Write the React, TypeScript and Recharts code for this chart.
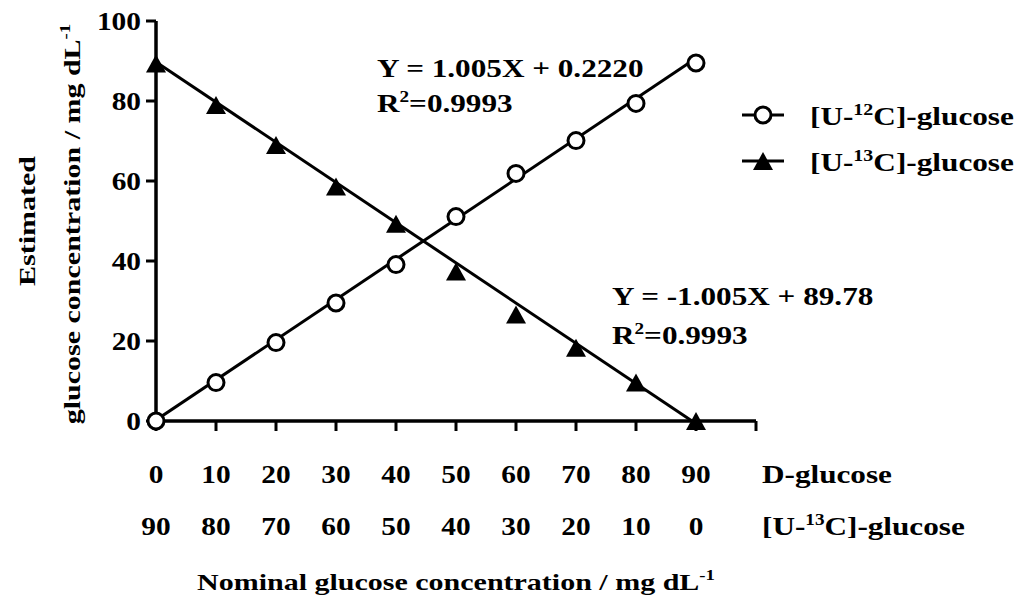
import React from "react";
import {
  ComposedChart,
  Line,
  Scatter,
  XAxis,
  YAxis,
  Legend,
  Customized,
} from "recharts";

// nominal D-glucose amount for each calibration mix
const nominalD = [0, 10, 20, 30, 40, 50, 60, 70, 80, 90];
// estimated concentrations
const u12Estimated = [0, 9.6, 19.6, 29.5, 39.1, 51.1, 61.9, 70.1, 79.4, 89.5];
const u13Estimated = [89.4, 79.0, 69.0, 58.6, 49.3, 37.4, 26.6, 18.3, 9.6, 0];

// regression lines (end points from the equations on the figure)
const fitX = [0, 90];
const fit12Y = [0.222, 90.672];
const fit13Y = [89.78, -0.67];

const xTicks = [0, 10, 20, 30, 40, 50, 60, 70, 80, 90, 100];
const dGlucoseLabels = ["0", "10", "20", "30", "40", "50", "60", "70", "80", "90"];
const u13Labels = ["90", "80", "70", "60", "50", "40", "30", "20", "10", "0"];
const yTicks = [0, 20, 40, 60, 80, 100];

const u12Data = nominalD.map((x, i) => ({ x, y: u12Estimated[i] }));
const u13Data = nominalD.map((x, i) => ({ x, y: u13Estimated[i] }));
const fit12Data = fitX.map((x, i) => ({ x, y: fit12Y[i] }));
const fit13Data = fitX.map((x, i) => ({ x, y: fit13Y[i] }));

const FONT = "'Liberation Serif', 'Times New Roman', serif";
const STRETCH = 1.25;

function SText({ x, y, size = 24, anchor = "start", rotate = 0, stretch = STRETCH, children }: any) {
  return (
    <text
      transform={`translate(${x},${y}) rotate(${rotate}) scale(${stretch},1)`}
      textAnchor={anchor}
      fontFamily={FONT}
      fontWeight="bold"
      fontSize={size}
      fill="#000"
    >
      {children}
    </text>
  );
}

function Sup({ text, rest, size = 15, rise = 10 }: any) {
  return (
    <>
      <tspan dy={-rise} fontSize={size}>{text}</tspan>
      <tspan dy={rise}>{rest}</tspan>
    </>
  );
}

function CircleMark({ cx, cy }: any) {
  return <circle cx={cx} cy={cy} r={8} fill="#fff" stroke="#000" strokeWidth={3} />;
}

function TriangleMark({ cx, cy }: any) {
  const w = 10, h = 9;
  return (
    <polygon
      points={`${cx},${cy - h} ${cx - w},${cy + h} ${cx + w},${cy + h}`}
      fill="#000"
    />
  );
}

function XTick({ x, y, payload, index }: any) {
  if (payload.value === 100) {
    return (
      <g>
        <SText x={x + 6} y={y + 52} size={26} stretch={1.2}>D-glucose</SText>
        <SText x={x + 6} y={y + 104} size={26} stretch={1.2}>
          [U-<Sup text="13" rest="C]-glucose" size={16} />
        </SText>
      </g>
    );
  }
  return (
    <g>
      <SText x={x} y={y + 52} anchor="middle" size={26} stretch={1.13}>
        {dGlucoseLabels[index]}
      </SText>
      <SText x={x} y={y + 104} anchor="middle" size={26} stretch={1.13}>
        {u13Labels[index]}
      </SText>
    </g>
  );
}

function YTick({ x, y, payload }: any) {
  return (
    <SText x={x} y={y + 9} anchor="end" size={26} stretch={1.13}>
      {payload.value}
    </SText>
  );
}

function YTitle() {
  return (
    <g>
      <SText x={35} y={221} anchor="middle" rotate={-90}>Estimated</SText>
      <SText x={80} y={224} anchor="middle" rotate={-90}>
        glucose concentration / mg dL<Sup text="-1" rest="" />
      </SText>
    </g>
  );
}

function XTitle() {
  return (
    <SText x={456} y={590} anchor="middle">
      Nominal glucose concentration / mg dL<Sup text="-1" rest="" />
    </SText>
  );
}

function Equations() {
  return (
    <g>
      <SText x={377} y={77} size={26} stretch={1.2}>Y = 1.005X + 0.2220</SText>
      <SText x={377} y={112} size={26} stretch={1.2}>
        R<Sup text="2" rest="=0.9993" size={16} />
      </SText>
      <SText x={612} y={305} size={26} stretch={1.2}>Y = -1.005X + 89.78</SText>
      <SText x={612} y={344} size={26} stretch={1.2}>
        R<Sup text="2" rest="=0.9993" size={16} />
      </SText>
    </g>
  );
}

const legendItems = [
  { pre: "[U-", sup: "12", post: "C]-glucose", mark: "circle" },
  { pre: "[U-", sup: "13", post: "C]-glucose", mark: "triangle" },
];

function LegendBox() {
  return (
    <svg width={283} height={90}>
      {legendItems.map((item, i) => {
        const cy = 20 + i * 46;
        return (
          <g key={item.sup}>
            <line x1={4} x2={46} y1={cy} y2={cy} stroke="#000" strokeWidth={3} />
            {item.mark === "circle" ? (
              <CircleMark cx={25} cy={cy} />
            ) : (
              <TriangleMark cx={25} cy={cy} />
            )}
            <SText x={72} y={cy + 10} size={25} stretch={1.25}>
              {item.pre}
              <Sup text={item.sup} rest={item.post} size={16} />
            </SText>
          </g>
        );
      })}
    </svg>
  );
}

export default function App() {
  return (
    <div style={{ position: "absolute", left: 0, top: 0, background: "#fff" }}>
      <ComposedChart
        width={1021}
        height={603}
        margin={{ top: 21, right: 265, left: 0, bottom: 0 }}
      >
        <XAxis
          dataKey="x"
          type="number"
          domain={[0, 100]}
          ticks={xTicks}
          interval={0}
          height={182}
          tickSize={10}
          tickMargin={0}
          axisLine={{ stroke: "#000", strokeWidth: 3.5 }}
          tickLine={{ stroke: "#000", strokeWidth: 3 }}
          tick={(p: any) => <XTick {...p} />}
          label={<XTitle />}
        />
        <YAxis
          dataKey="y"
          type="number"
          domain={[0, 100]}
          ticks={yTicks}
          interval={0}
          width={156}
          tickSize={10}
          tickMargin={5}
          axisLine={{ stroke: "#000", strokeWidth: 3.5 }}
          tickLine={{ stroke: "#000", strokeWidth: 3 }}
          tick={(p: any) => <YTick {...p} />}
          label={<YTitle />}
        />
        <YAxis yAxisId="fit" type="number" domain={[0, 100]} allowDataOverflow hide />
        <Line
          data={fit12Data}
          yAxisId="fit"
          dataKey="y"
          type="linear"
          stroke="#000"
          strokeWidth={3}
          dot={false}
          legendType="none"
          isAnimationActive={false}
        />
        <Line
          data={fit13Data}
          yAxisId="fit"
          dataKey="y"
          type="linear"
          stroke="#000"
          strokeWidth={3}
          dot={false}
          legendType="none"
          isAnimationActive={false}
        />
        <Scatter
          name="[U-12C]-glucose"
          data={u12Data}
          dataKey="y"
          shape={(p: any) => <CircleMark {...p} />}
          isAnimationActive={false}
        />
        <Scatter
          name="[U-13C]-glucose"
          data={u13Data}
          dataKey="y"
          shape={(p: any) => <TriangleMark {...p} />}
          isAnimationActive={false}
        />
        <Legend
          layout="vertical"
          align="center"
          verticalAlign="middle"
          wrapperStyle={{ left: 738, top: 95, width: 283, height: 90 }}
          content={() => <LegendBox />}
        />
        <Customized component={<Equations />} />
      </ComposedChart>
    </div>
  );
}
